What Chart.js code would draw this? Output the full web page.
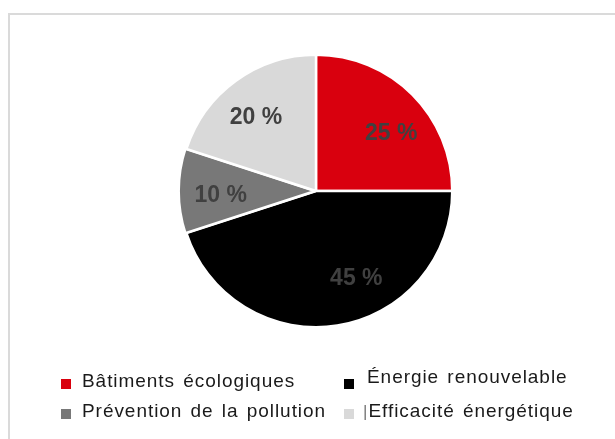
<!DOCTYPE html>
<html>
<head>
<meta charset="utf-8">
<script src="https://cdn.jsdelivr.net/npm/chart.js@4/dist/chart.umd.min.js"></script>
<style>
  html, body { margin: 0; padding: 0; background: #fff; }
  #wrap { position: relative; width: 615px; height: 439px; overflow: hidden; }
  #frame { position: absolute; left: 8px; top: 13px; width: 700px; height: 500px;
           border-top: 2px solid #dadada; border-left: 2px solid #dadada; }
  #pie { position: absolute; left: 0; top: 0; }
  .item { position: absolute; font-family: "Liberation Sans", Arial, sans-serif;
          font-size: 19px; line-height: 19px; color: #1a1a1a; letter-spacing: 0.95px;
          word-spacing: 2px; white-space: nowrap; }
  .box { position: absolute; width: 10px; height: 10px; }
  .cursor { color: #777; font-size: 17px; letter-spacing: 0; margin-right: 1px; }
</style>
</head>
<body>
<div id="wrap">
  <div id="frame"></div>
  <canvas id="pie" width="615" height="439"></canvas>
  <div id="legend"></div>
</div>
<script>
var labels = ['Bâtiments écologiques', 'Énergie renouvelable', 'Prévention de la pollution', 'Efficacité énergétique'];
var values = [25, 45, 10, 20];
var colors = ['#d9000e', '#000000', '#787878', '#d9d9d9'];

// label placement tweaks (deg) – style only
var labelNudge = [7, -16, -2, -3];

var pctLabels = {
  id: 'pctLabels',
  afterDatasetsDraw: function(chart) {
    var ctx = chart.ctx;
    var meta = chart.getDatasetMeta(0);
    ctx.save();
    ctx.font = 'bold 23px "Liberation Sans", Arial, sans-serif';
    ctx.fillStyle = '#404040';
    ctx.textAlign = 'center';
    ctx.textBaseline = 'middle';
    meta.data.forEach(function(arc, i) {
      var p = arc.getProps(['x', 'y', 'startAngle', 'endAngle', 'outerRadius'], true);
      var mid = (p.startAngle + p.endAngle) / 2 + labelNudge[i] * Math.PI / 180;
      var r = p.outerRadius * 0.7;
      ctx.fillText(values[i] + ' %', p.x + Math.cos(mid) * r, p.y + Math.sin(mid) * r + 1);
    });
    ctx.restore();
  }
};

new Chart(document.getElementById('pie'), {
  type: 'pie',
  data: {
    labels: labels,
    datasets: [{
      data: values,
      backgroundColor: colors,
      borderColor: '#ffffff',
      borderWidth: 2.5,
      offset: [0, 0, 3, 0]
    }]
  },
  options: {
    responsive: false,
    devicePixelRatio: 1,
    animation: false,
    layout: { padding: { top: 52, bottom: 109, left: 17, right: 0 } },
    plugins: {
      legend: { display: false },
      tooltip: { enabled: false }
    }
  },
  plugins: [pctLabels]
});

// legend, two columns
var slots = [
  { bx: 61, by: 379, tx: 82, ty: 371 },
  { bx: 344, by: 379, tx: 367, ty: 367 },
  { bx: 61, by: 409, tx: 82, ty: 401 },
  { bx: 344, by: 409, tx: 363, ty: 401 }
];
var legend = document.getElementById('legend');
labels.forEach(function(name, i) {
  var s = slots[i];
  var b = document.createElement('div');
  b.className = 'box';
  b.style.left = s.bx + 'px';
  b.style.top = s.by + 'px';
  b.style.background = colors[i];
  legend.appendChild(b);
  var t = document.createElement('div');
  t.className = 'item';
  t.style.left = s.tx + 'px';
  t.style.top = s.ty + 'px';
  if (i === 3) {
    var c = document.createElement('span');
    c.className = 'cursor';
    c.textContent = '|';
    t.appendChild(c);
  }
  t.appendChild(document.createTextNode(name));
  legend.appendChild(t);
});
</script>
</body>
</html>
